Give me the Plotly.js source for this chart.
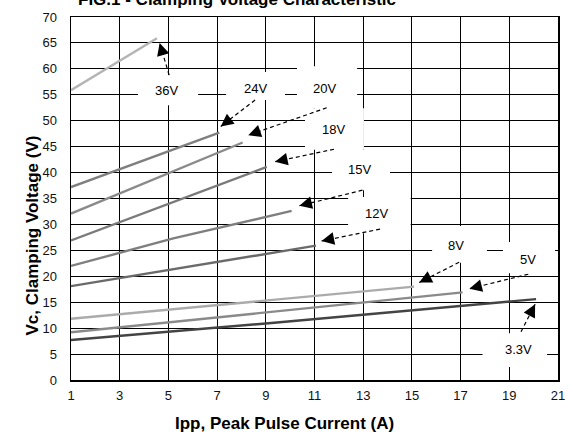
<!DOCTYPE html>
<html>
<head>
<meta charset="utf-8">
<script src="https://cdn.plot.ly/plotly-3.0.1.min.js"></script>
<style>html,body{margin:0;padding:0;background:#fff;}#chart{width:570px;height:432px;}</style>
</head>
<body>
<div id="chart"></div>
<script>
// ---- data ----
const seriesNames = ['36V','24V','20V','18V','15V','12V','8V','5V','3.3V'];
const ipp36 = [1, 4.53];    const vc36 = [55.9, 65.9];
const ipp24 = [1, 7.09];    const vc24 = [37.2, 47.7];
const ipp20 = [1, 8.05];    const vc20 = [32.1, 45.8];
const ipp18 = [1, 9.04];    const vc18 = [26.9, 41.1];
const ipp15 = [1, 5.2, 10.06]; const vc15 = [22.0, 27.3, 32.6];
const ipp12 = [1, 11.06];   const vc12 = [18.1, 25.9];
const ipp8  = [1, 15.09];   const vc8  = [11.8, 18.0];
const ipp5  = [1, 17.08];   const vc5  = [9.2, 16.9];
const ipp33 = [1, 9, 20.1]; const vc33 = [7.7, 10.9, 15.6];
const xTicks = [1,3,5,7,9,11,13,15,17,19,21];
const yTicks = [0,5,10,15,20,25,30,35,40,45,50,55,60,65,70];

// ---- styling / layout (kept separate from data) ----
const xs = [ipp36,ipp24,ipp20,ipp18,ipp15,ipp12,ipp8,ipp5,ipp33];
const ys = [vc36,vc24,vc20,vc18,vc15,vc12,vc8,vc5,vc33];
const colors = ['#b4b4b4','#7f7f7f','#8a8a8a','#7a7a7a','#7f7f7f','#6a6a6a','#ababab','#8a8a8a','#444444'];

// label text position, white box [x0,x1,y0,y1], dashed arrow start, arrow tip (all in axis units)
const labels = [
  {t:'36V', x:4.94, y:55.8, box:[3.75,6.22,53.0,58.8], s:[5.03,58.8], e:[4.64,65.0]},
  {t:'24V', x:8.56, y:56.2, box:[7.37,9.79,54.0,59.4], s:[8.56,54.0], e:[7.15,48.9]},
  {t:'20V', x:11.43,y:56.2, box:[10.28,12.75,52.4,60.5], s:[11.5,52.5], e:[8.28,47.2]},
  {t:'18V', x:11.77,y:48.3, box:[10.61,13.03,44.4,52.4], s:[11.8,44.5], e:[9.38,42.1]},
  {t:'15V', x:12.84,y:40.5, box:[11.72,14.10,36.6,44.4], s:[12.97,36.6], e:[10.38,33.6]},
  {t:'12V', x:13.55,y:32.1, box:[12.38,14.95,28.3,35.3], s:[13.69,29.1], e:[11.29,26.8]},
  {t:'8V',  x:16.81,y:26.0, box:[15.83,18.08,22.6,29.7], s:[16.94,22.7], e:[15.30,18.8]},
  {t:'5V',  x:19.75,y:23.3, box:[18.74,20.88,20.6,26.6], s:[19.78,20.4], e:[17.36,17.6]},
  {t:'3.3V',x:19.37,y:5.8,  box:[17.90,20.55,2.5,9.0], s:[19.48,9.3], e:[20.06,14.6]}
];

const traces = xs.map((x,i)=>({
  x:x, y:ys[i], type:'scatter', mode:'lines', name:seriesNames[i],
  line:{color:colors[i], width:2.4}, hoverinfo:'skip'
}));

const L = 71, R = 12, T = 17, B = 52;
const W = 570, H = 432;
const pw = W-L-R, ph = H-T-B;
const pxX = pw/20, pxY = ph/70;
const FONT = 'Arial, Liberation Sans, sans-serif';

const shapes = [];
labels.forEach(l=>{
  shapes.push({type:'rect', xref:'x', yref:'y', x0:l.box[0], x1:l.box[1], y0:l.box[2], y1:l.box[3],
    fillcolor:'#ffffff', line:{width:0}, layer:'between'});
});
labels.forEach(l=>{
  shapes.push({type:'line', xref:'x', yref:'y', x0:l.s[0], y0:l.s[1], x1:l.e[0], y1:l.e[1],
    line:{color:'#000', width:1.2, dash:'4px,3px'}, layer:'above'});
});

const annotations = [];
labels.forEach(l=>{
  annotations.push({x:l.x, y:l.y, xref:'x', yref:'y', text:l.t, showarrow:false,
    xanchor:'center', yanchor:'middle', font:{family:FONT, size:13, color:'#000'}});
  let dx = (l.s[0]-l.e[0])*pxX, dy = -(l.s[1]-l.e[1])*pxY;
  const n = Math.hypot(dx,dy);
  annotations.push({x:l.e[0], y:l.e[1], xref:'x', yref:'y', text:'', showarrow:true,
    ax: dx/n*10, ay: dy/n*10, arrowhead:2, arrowsize:1.8, arrowwidth:1.4, arrowcolor:'#000', standoff:0});
});
annotations.push({xref:'paper', yref:'paper', x:(237-L)/pw, y:(H-B-11)/ph, xanchor:'center', yanchor:'bottom',
  text:'<b>FIG.1 - Clamping Voltage Characteristic</b>',
  showarrow:false, font:{family:FONT, size:17, color:'#000'}});
annotations.push({xref:'paper', yref:'paper', x:(284-L)/pw, y:(H-B-423)/ph, xanchor:'center', yanchor:'middle',
  text:'<b>Ipp, Peak Pulse Current (A)</b>',
  showarrow:false, font:{family:FONT, size:17, color:'#000'}});
annotations.push({xref:'paper', yref:'paper', x:(32-L)/pw, y:(H-B-235.5)/ph, xanchor:'center', yanchor:'middle',
  text:'<b>Vc, Clamping Voltage (V)</b>', textangle:-90,
  showarrow:false, font:{family:FONT, size:17, color:'#000'}});

const layout = {
  width:W, height:H, margin:{l:L, r:R, t:T, b:B},
  paper_bgcolor:'#fff', plot_bgcolor:'#fff', showlegend:false,
  xaxis:{range:[1,21], tickvals:xTicks, ticktext:xTicks.map(String), showgrid:true, gridcolor:'#000', gridwidth:1,
    zeroline:false, showline:true, linecolor:'#000', linewidth:1.5, mirror:true, ticks:'', ticklabelstandoff:3,
    tickfont:{family:FONT, size:13, color:'#111'}, fixedrange:true},
  yaxis:{range:[0,70], tickvals:yTicks, ticktext:yTicks.map(String), showgrid:true, gridcolor:'#000', gridwidth:1,
    zeroline:false, showline:true, linecolor:'#000', linewidth:1.5, mirror:true, ticks:'', ticklabelstandoff:10,
    tickfont:{family:FONT, size:13, color:'#111'}, fixedrange:true},
  shapes:shapes, annotations:annotations
};
Plotly.newPlot('chart', traces, layout, {staticPlot:true, displayModeBar:false});
</script>
</body>
</html>
